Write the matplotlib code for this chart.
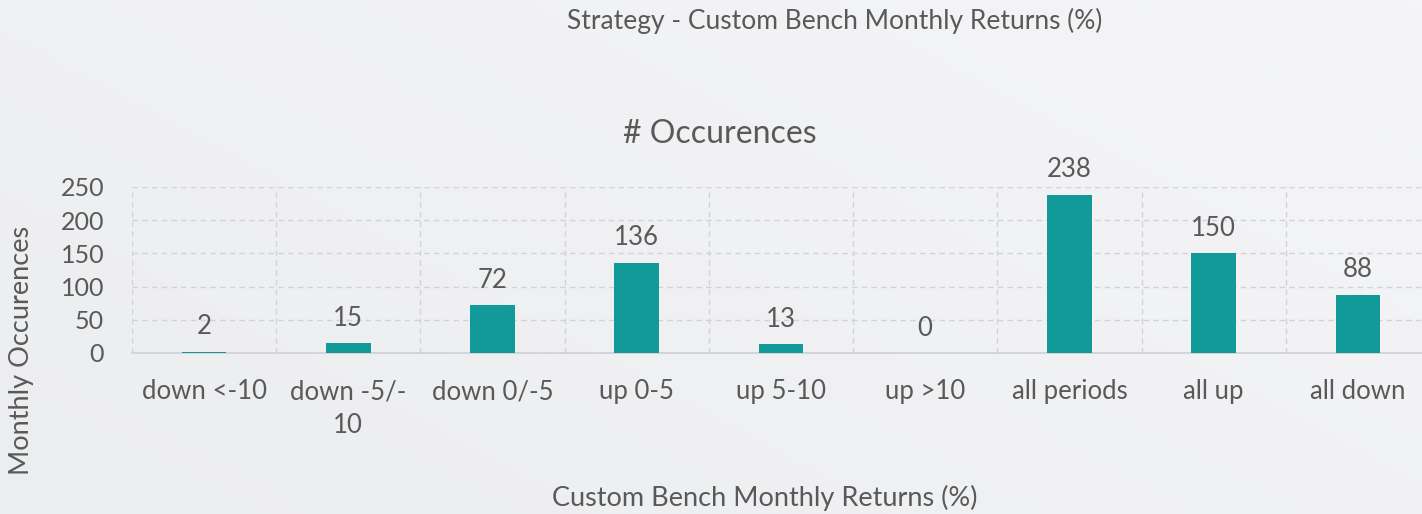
import matplotlib.pyplot as plt
import numpy as np

# --- Datos ---
categories = ["down <-10", "down -5/-\n10", "down 0/-5", "up 0-5", "up 5-10",
              "up >10", "all periods", "all up", "all down"]
occurrences = [2, 15, 72, 136, 13, 0, 238, 150, 88]
y_ticks = [0, 50, 100, 150, 200, 250]

bar_color = "#129999"
text_color = "#595959"
grid_color = "#d2d3d5"

plt.rcParams["font.family"] = ["Lato", "DejaVu Sans"]

fig = plt.figure(figsize=(14.22, 5.14), dpi=100, facecolor="#eff0f2")

# fondo con degradado suave
bg = fig.add_axes([0, 0, 1, 1], zorder=-1)
gx, gy = np.meshgrid(np.linspace(0, 1, 200), np.linspace(0, 1, 80))
bg.imshow(0.6 * gx + 0.4 * gy, cmap=plt.matplotlib.colors.LinearSegmentedColormap.from_list(
    "bg", ["#ecedef", "#f5f5f7"]), aspect="auto", origin="lower", extent=[0, 1, 0, 1])
bg.axis("off")

ax = fig.add_axes([131.9 / 1422, 1 - 353 / 514, (1430 - 131.9) / 1422, (353 - 187) / 514])
ax.set_facecolor("none")

x = np.arange(len(categories))
ax.bar(x, occurrences, width=0.31, color=bar_color, zorder=3)

# etiquetas de datos
for xi, v in zip(x, occurrences):
    ax.annotate(str(v), (xi, v), xytext=(0, 9), textcoords="offset points",
                ha="center", va="bottom", fontsize=18.5, color=text_color)

ax.set_xlim(-0.5, len(categories) - 0.5)
ax.set_ylim(0, 250)
ax.set_yticks(y_ticks)
ax.set_xticks(x)
ax.set_xticklabels(categories, fontsize=18.5, color=text_color, linespacing=1.45)
ax.tick_params(axis="y", labelsize=18, labelcolor=text_color, length=0, pad=20)
ax.tick_params(axis="x", length=0, pad=19)

# cuadrícula discontinua
ax.set_xticks(np.arange(-0.5, len(categories), 1), minor=True)
ax.tick_params(axis="x", which="minor", length=0)
ax.grid(True, axis="y", linestyle=(0, (4, 3)), color=grid_color, lw=1, zorder=0)
ax.grid(True, axis="x", which="minor", linestyle=(0, (4, 3)), color=grid_color, lw=1, zorder=0)
ax.grid(False, axis="x", which="major")

for s in ["top", "right", "left"]:
    ax.spines[s].set_visible(False)
ax.spines["bottom"].set_color("#cfd0d2")
ax.spines["bottom"].set_linewidth(1.2)

# Títulos
fig.text(835 / 1422, 1 - 21 / 514, "Strategy - Custom Bench Monthly Returns (%)",
         ha="center", va="center", fontsize=19, color=text_color)
fig.text(720 / 1422, 1 - 134 / 514, "# Occurences",
         ha="center", va="center", fontsize=23, color=text_color)
fig.text(765 / 1422, 1 - 498 / 514, "Custom Bench Monthly Returns (%)",
         ha="center", va="center", fontsize=19.5, color=text_color)
fig.text(22 / 1422, 1 - 350 / 514, "Monthly Occurences", rotation=90,
         ha="center", va="center", fontsize=19.5, color=text_color)

fig.savefig("out.png", dpi=100, facecolor=fig.get_facecolor())
